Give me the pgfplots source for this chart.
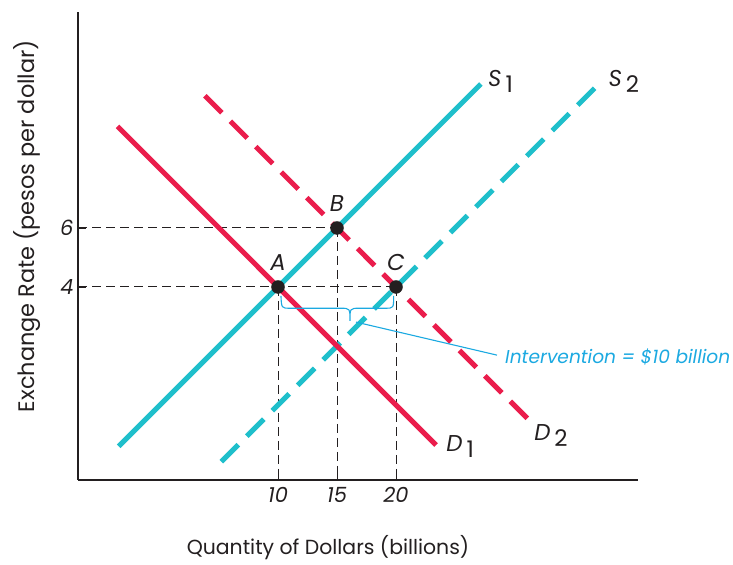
\documentclass[border=0pt]{standalone}
\usepackage{pgfplots}
\pgfplotsset{compat=1.18}
\usepackage{fontspec}
\setmainfont{Poppins}
\definecolor{scyan}{HTML}{1FBFCB}
\definecolor{dred}{HTML}{EA1D4C}
\definecolor{annblue}{HTML}{1BA9E1}
\definecolor{ink}{HTML}{231F20}
\begin{document}
\begin{tikzpicture}[x=1bp,y=1bp]
\useasboundingbox (-78,-85) rectangle (655,480);
\begin{axis}[
  scale only axis,
  width=560bp, height=468bp,
  xmin=-6.95, xmax=40.51,
  ymin=-2.542, ymax=13.32,
  axis x line=bottom, axis y line=left,
  axis line style={-, line width=2.4bp, color=ink},
  xtick={10,15,20}, ytick={4,6},
  tick align=inside, major tick length=8bp,
  tick style={ink, line width=0.8bp},
  /pgf/number format/assume math mode=true,
  ticklabel style={font=\fontsize{21}{21}\selectfont\itshape, text=ink},
  xticklabel style={yshift=-4bp},
  yticklabel style={xshift=-1bp},
  clip=false,
]
% guide lines
\addplot[ink, line width=1bp, dash pattern=on 9bp off 5bp] coordinates {(-6.95,6) (15,6)};
\addplot[ink, line width=1bp, dash pattern=on 9bp off 5bp] coordinates {(15,6) (15,-2.542)};
\addplot[ink, line width=1bp, dash pattern=on 9bp off 5bp] coordinates {(-6.95,4) (20,4)};
\addplot[ink, line width=1bp, dash pattern=on 9bp off 5bp] coordinates {(10,4) (10,-2.542)};
\addplot[ink, line width=1bp, dash pattern=on 9bp off 5bp] coordinates {(20,4) (20,-2.542)};
% curves
\addplot[scyan, line width=5bp] coordinates {(-3.5,-1.4) (27.2,10.88)};
\addplot[scyan, line width=5bp, dash pattern=on 24bp off 12bp] coordinates {(5.2,-1.92) (37.3,10.92)};
\addplot[dred, line width=5bp] coordinates {(-3.6,9.44) (23.4,-1.36)};
\addplot[dred, line width=5bp, dash pattern=on 24bp off 12bp] coordinates {(3.8,10.48) (31.2,-0.48)};
% points
\addplot[only marks, mark=*, mark size=6.5bp, ink] coordinates {(10,4) (15,6) (20,4)};
% point labels
\node[anchor=base, font=\fontsize{23}{23}\selectfont\itshape, text=ink] at (axis cs:10,4.55) {A};
\node[anchor=base, font=\fontsize{23}{23}\selectfont\itshape, text=ink] at (axis cs:15,6.55) {B};
\node[anchor=base, font=\fontsize{23}{23}\selectfont\itshape, text=ink] at (axis cs:20,4.55) {C};
% curve labels
\node[anchor=base west, inner sep=0pt, font=\fontsize{23}{23}\selectfont, text=ink] at (axis cs:27.8,10.78) {\itshape S\hspace{4bp}\upshape\raisebox{-6bp}{1}};
\node[anchor=base west, inner sep=0pt, font=\fontsize{23}{23}\selectfont, text=ink] at (axis cs:38.0,10.78) {\itshape S\hspace{4bp}\upshape\raisebox{-6bp}{2}};
\node[anchor=base west, inner sep=0pt, font=\fontsize{23}{23}\selectfont, text=ink] at (axis cs:24.25,-1.59) {\itshape D\hspace{4bp}\upshape\raisebox{-6bp}{1}};
\node[anchor=base west, inner sep=0pt, font=\fontsize{23}{23}\selectfont, text=ink] at (axis cs:31.7,-1.19) {\itshape D\hspace{4bp}\upshape\raisebox{-6bp}{2}};
% brace and annotation
\draw[annblue, line width=1.1bp] (axis cs:10.25,3.7) .. controls (axis cs:10.3,3.28) .. (axis cs:11,3.28) -- (axis cs:15.3,3.28) .. controls (axis cs:16.1,3.28) .. (axis cs:16.1,2.85) .. controls (axis cs:16.1,3.28) .. (axis cs:16.9,3.28) -- (axis cs:19.1,3.28) .. controls (axis cs:19.8,3.28) .. (axis cs:19.8,3.7);
\draw[annblue, line width=1.1bp] (axis cs:16.61,2.81) -- (axis cs:28.56,1.69);
\node[anchor=west, inner sep=0pt, font=\fontsize{18.7}{18.7}\selectfont\itshape, text=annblue] at (axis cs:29.24,1.63) {Intervention = \$10 billion};
\end{axis}
\node[rotate=90, font=\fontsize{22.5}{22.5}\selectfont, text=ink] at (-51,254) {Exchange Rate (pesos per dollar)};
\node[font=\fontsize{20.5}{20.5}\selectfont, text=ink] at (250,-68) {Quantity of Dollars (billions)};
\end{tikzpicture}
\end{document}
